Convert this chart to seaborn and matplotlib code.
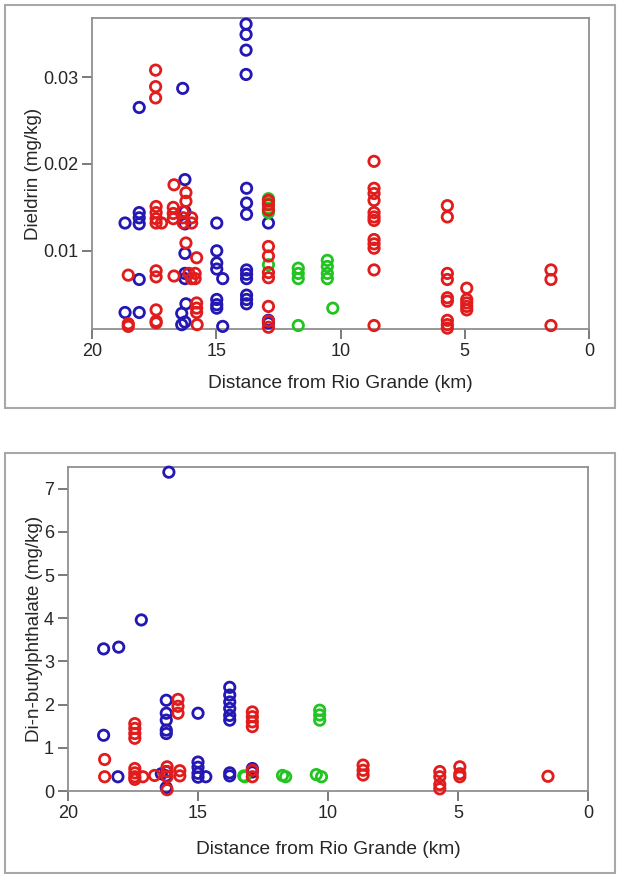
import matplotlib
matplotlib.use("Agg")
import matplotlib.pyplot as plt
from matplotlib.patches import Rectangle
import seaborn as sns
import pandas as pd

# Dieldrin panel (distance km, mg/kg)
dld_blue_x = [18.1, 16.35, 13.8, 13.8, 13.8, 13.8,
              16.26, 16.26, 16.26, 18.67, 18.1, 18.1, 18.1, 14.98,
              16.26, 14.98, 14.98, 14.98, 14.74, 18.1, 16.26, 16.26,
              18.67, 18.1, 16.22, 16.39, 16.26, 16.39,
              14.98, 14.98, 14.98, 14.74,
              13.78, 13.78, 13.78, 13.78, 13.78, 13.78, 13.78, 13.78, 13.78,
              12.9, 12.9, 12.9]
dld_blue_y = [0.0265, 0.0287, 0.0361, 0.0349, 0.0331, 0.0303,
              0.0182, 0.0145, 0.0131, 0.0132, 0.0144, 0.0138, 0.0131, 0.0132,
              0.0097, 0.0100, 0.0086, 0.0079, 0.0068, 0.0067, 0.0074, 0.0068,
              0.0029, 0.0029, 0.0039, 0.0028, 0.0018, 0.0015,
              0.0044, 0.0038, 0.0034, 0.0013,
              0.0172, 0.0155, 0.0142, 0.0078, 0.0073, 0.0068, 0.0049, 0.0044, 0.0039,
              0.0132, 0.0020, 0.0017]

dld_red_x = [17.44, 17.44, 17.44, 16.7, 16.22, 16.22,
             17.42, 17.42, 17.42, 17.42, 17.2, 16.73, 16.73, 16.73,
             16.33, 16.33, 16.33, 15.99, 15.99, 16.22, 15.79,
             18.54, 17.42, 17.42, 16.7, 16.1, 16.0, 15.85, 15.85,
             17.42, 18.54, 18.54, 17.42, 17.42, 15.79, 15.79, 15.79, 15.77,
             12.9, 12.9, 12.9, 12.9, 12.9, 12.9, 12.9, 12.9, 12.9, 12.9,
             8.65, 8.65, 8.65, 8.65, 8.65, 8.65, 8.65, 8.65, 8.65, 8.65, 8.65, 8.65,
             5.7, 5.7, 5.7, 5.7, 5.7, 5.7, 5.7, 5.7, 5.7,
             4.92, 4.92, 4.92, 4.92, 4.92,
             1.53, 1.53, 1.53]
dld_red_y = [0.0308, 0.0289, 0.0276, 0.0176, 0.0167, 0.0157,
             0.0151, 0.0144, 0.0137, 0.0132, 0.0132, 0.0150, 0.0143, 0.0137,
             0.0145, 0.0138, 0.0132, 0.0138, 0.0132, 0.0109, 0.0092,
             0.0072, 0.0077, 0.0070, 0.0071, 0.0074, 0.0068, 0.0074, 0.0068,
             0.0032, 0.0016, 0.0013, 0.0019, 0.0017, 0.0040, 0.0034, 0.0029, 0.0015,
             0.0158, 0.0153, 0.0147, 0.0105, 0.0094, 0.0075, 0.0069, 0.0036, 0.0019, 0.0012,
             0.0203, 0.0172, 0.0166, 0.0158, 0.0144, 0.0139, 0.0135, 0.0113, 0.0108, 0.0103, 0.0078, 0.0014,
             0.0152, 0.0139, 0.0074, 0.0067, 0.0046, 0.0042, 0.0020, 0.0015, 0.0011,
             0.0057, 0.0044, 0.0040, 0.0036, 0.0032,
             0.0078, 0.0067, 0.0014]

dld_green_x = [12.9, 12.9, 12.9, 12.9, 12.9, 11.7, 11.7, 11.7, 11.7,
               10.53, 10.53, 10.53, 10.53, 10.31]
dld_green_y = [0.0160, 0.0155, 0.0149, 0.0144, 0.0084, 0.0080, 0.0074, 0.0068, 0.0014,
               0.0089, 0.0082, 0.0074, 0.0068, 0.0034]

# Di-n-butylphthalate panel
dbp_blue_x = [16.12, 17.18, 18.63, 18.05, 18.63, 18.08,
              16.41, 16.22, 16.22, 16.22, 16.22, 16.22, 16.22, 16.22, 16.22,
              15.0, 15.0, 15.0, 15.0, 15.0, 14.7,
              13.78, 13.78, 13.78, 13.78, 13.78, 13.78, 13.78, 13.78,
              12.91, 12.91]
dbp_blue_y = [7.38, 3.96, 3.29, 3.33, 1.29, 0.33,
              0.40, 2.10, 1.80, 1.64, 1.41, 1.33, 0.45, 0.35, 0.08,
              1.80, 0.67, 0.55, 0.41, 0.32, 0.33,
              2.40, 2.22, 2.06, 1.91, 1.75, 1.64, 0.42, 0.35,
              0.52, 0.44]

dbp_red_x = [18.59, 18.59, 17.43, 17.43, 17.43, 17.43,
             17.43, 17.43, 17.43, 17.43, 17.12, 16.67,
             16.19, 16.19, 16.19, 16.19,
             15.77, 15.77, 15.77, 15.7, 15.7,
             12.91, 12.91, 12.91, 12.91, 12.91, 12.91,
             8.65, 8.65, 8.65, 5.7, 5.7, 5.7, 5.7,
             4.93, 4.93, 4.93, 1.54]
dbp_red_y = [0.73, 0.33, 1.56, 1.45, 1.33, 1.22,
             0.52, 0.42, 0.33, 0.27, 0.33, 0.36,
             0.56, 0.45, 0.33, 0.03,
             2.12, 1.96, 1.80, 0.47, 0.35,
             1.83, 1.72, 1.60, 1.49, 0.48, 0.33,
             0.60, 0.48, 0.37, 0.45, 0.33, 0.15, 0.05,
             0.56, 0.40, 0.33, 0.34]

dbp_green_x = [13.2, 13.24, 11.63, 11.75, 10.45, 10.25, 10.32, 10.32, 10.32]
dbp_green_y = [0.33, 0.35, 0.33, 0.36, 0.38, 0.33, 1.87, 1.76, 1.64]

colors = {"blue": "#2418b4", "green": "#22c422", "red": "#e01c1c"}

sns.set_theme(style="white")
plt.rcParams["font.family"] = ["Liberation Sans", "DejaVu Sans"]

fig = plt.figure(figsize=(6.18, 8.74), dpi=100)

# grey frames around each panel
for (x0, y0, x1, y1) in [(5, 5, 615, 408), (5, 453, 615, 873)]:
    fig.patches.append(Rectangle((x0 / 618, 1 - y1 / 874), (x1 - x0) / 618, (y1 - y0) / 874,
                                 transform=fig.transFigure, fill=False,
                                 edgecolor="#a8a8a8", linewidth=1.5))

ax1 = fig.add_axes([92 / 618, 1 - 329 / 874, (589 - 92) / 618, (329 - 18) / 874])
ax2 = fig.add_axes([68 / 618, 1 - 791 / 874, (588 - 68) / 618, (791 - 467) / 874])


def draw(ax, groups):
    for name, xs, ys in groups:
        df = pd.DataFrame({"x": xs, "y": ys})
        sns.scatterplot(data=df, x="x", y="y", ax=ax, marker="o", s=56,
                        facecolor="none", edgecolor=colors[name],
                        linewidth=2.0, clip_on=False, zorder=3)


draw(ax1, [("blue", dld_blue_x, dld_blue_y),
           ("green", dld_green_x, dld_green_y),
           ("red", dld_red_x, dld_red_y)])
draw(ax2, [("blue", dbp_blue_x, dbp_blue_y),
           ("green", dbp_green_x, dbp_green_y),
           ("red", dbp_red_x, dbp_red_y)])

ax1.set_xlim(20, 0)
ax1.set_ylim(0.001, 0.0368)
ax1.set_yticks([0.01, 0.02, 0.03])
ax1.set_yticklabels(["0.01", "0.02", "0.03"])
ax1.set_ylabel("Dieldrin (mg/kg)", fontsize=13.5, labelpad=1)

ax2.set_xlim(20, 0)
ax2.set_ylim(0, 7.5)
ax2.set_yticks(range(0, 8))
ax2.set_ylabel("Di-n-butylphthalate (mg/kg)", fontsize=13.5, labelpad=1)

for ax in (ax1, ax2):
    ax.set_xticks([20, 15, 10, 5, 0])
    ax.tick_params(axis="both", labelsize=13, length=7, width=1.3,
                   color="#707070", direction="out", pad=3)
    ax.tick_params(axis="both", bottom=True, left=True)
    for sp in ax.spines.values():
        sp.set_visible(True)
        sp.set_color("#909090")
        sp.set_linewidth(1.3)

ax1.set_xlabel("Distance from Rio Grande (km)", fontsize=13.8, labelpad=11)
ax2.set_xlabel("Distance from Rio Grande (km)", fontsize=13.8, labelpad=14)

fig.savefig("out.png", dpi=100)
